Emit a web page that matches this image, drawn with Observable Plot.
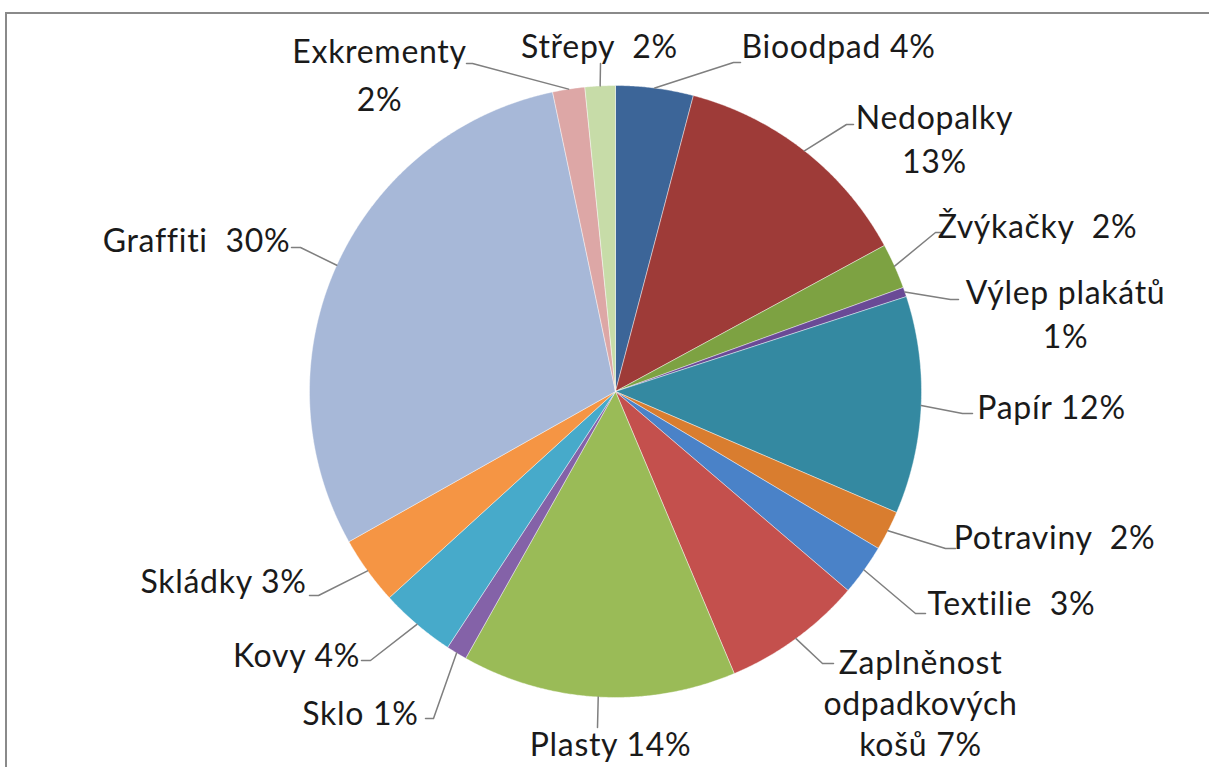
<!DOCTYPE html>
<html>
<head>
<meta charset="utf-8">
<script src="https://cdn.jsdelivr.net/npm/d3@7"></script>
<script src="https://cdn.jsdelivr.net/npm/@observablehq/plot@0.6"></script>
<style>
  html, body { margin: 0; padding: 0; background: #fff; }
  #wrap { position: relative; width: 1209px; height: 767px; overflow: hidden; }
  #frame { position: absolute; left: 5px; top: 12px; width: 1220px; height: 800px;
           border-left: 2px solid #8a8a8a; border-top: 2px solid #8a8a8a; }
  #chart { position: absolute; left: 0; top: 0; }
  #chart text { letter-spacing: 0.7px; }
</style>
</head>
<body>
<div id="wrap"><div id="frame"></div><div id="chart"></div></div>
<script>
// ---- data (clockwise from 12 o'clock) ----
const names = ["Bioodpad", "Nedopalky", "Žvýkačky", "Výlep plakátů", "Papír", "Potraviny",
  "Textilie", "Zaplněnost odpadkových košů", "Plasty", "Sklo", "Kovy", "Skládky",
  "Graffiti", "Exkrementy", "Střepy"];
const values = [4.1, 13.0, 2.4, 0.5, 11.5, 2.1, 2.7, 7.4, 14.5, 1.1, 4.0, 3.6, 29.9, 1.7, 1.6];
const labelTexts = ["Bioodpad 4%", "Nedopalky\n13%", "Žvýkačky\u00a0 2%", "Výlep plakátů\n1%",
  "Papír 12%", "Potraviny\u00a0 2%", "Textilie\u00a0 3%", "Zaplněnost\nodpadkových\nkošů 7%",
  "Plasty 14%", "Sklo 1%", "Kovy 4%", "Skládky 3%", "Graffiti\u00a0 30%", "Exkrementy\n2%", "Střepy\u00a0 2%"];
const colors = ["#3C6598", "#9E3B38", "#7DA242", "#6A4A96", "#3489A1", "#D97D2F",
  "#4A82C8", "#C4504D", "#9ABB57", "#8462A8", "#47AACA", "#F59544",
  "#A7B8D8", "#DDA7A6", "#C7DCA8"];

// ---- layout (pixels) ----
const W = 1209, H = 767;
const cx = 615, cy = 391, R = 306;
// label centre of first line, line spacing
const labelPos = [[838, 47, 44], [934, 118, 44], [1037, 227, 44], [1065, 293, 44],
  [1051, 408, 44], [1054, 538, 44], [1011, 604, 44], [920, 663, 41],
  [610, 745, 44], [360, 714, 44], [296, 656, 44], [223, 582, 44],
  [196, 241, 44], [379, 52, 48], [599, 47, 44]];
// leader elbow and tick end
const leaderPts = [[[733, 62], [740, 62]], [[846, 124], [853, 124]], [[935, 232], [942, 232]],
  [[950, 299], [958, 299]], [[962, 413], [972, 413]], [[945, 548], [955, 548]],
  [[915, 613], [925, 613]], [[822, 663], [833, 663]], [[597, 727], [597, 727]],
  [[433, 718], [425, 718]], [[370, 660], [361, 660]], [[318, 595], [309, 595]],
  [[300, 247], [291, 247]], [[472, 63], [466, 63]], [[600, 63], [600, 63]]];

const arcs = d3.pie().sort(null).value(d => d)(values);
const pt = (a, r) => [cx + r * Math.sin(a), cy - r * Math.cos(a)];

const slicePts = [];
arcs.forEach((a, i) => {
  const n = Math.max(2, Math.ceil((a.endAngle - a.startAngle) / 0.005));
  slicePts.push({name: names[i], x: cx, y: cy});
  for (let k = 0; k <= n; k++) {
    const ang = a.startAngle + (a.endAngle - a.startAngle) * k / n;
    const [x, y] = pt(ang, R);
    slicePts.push({name: names[i], x, y});
  }
  slicePts.push({name: names[i], x: cx, y: cy});
});

const leaderRows = [];
arcs.forEach((a, i) => {
  const [x0, y0] = pt((a.startAngle + a.endAngle) / 2, R);
  leaderRows.push({name: names[i], x: x0, y: y0});
  leaderRows.push({name: names[i], x: leaderPts[i][0][0], y: leaderPts[i][0][1]});
  leaderRows.push({name: names[i], x: leaderPts[i][1][0], y: leaderPts[i][1][1]});
});

const textRows = [];
labelTexts.forEach((t, i) => {
  t.split("\n").forEach((line, j) => {
    textRows.push({text: line, x: labelPos[i][0], y: labelPos[i][1] + j * labelPos[i][2]});
  });
});

const chart = Plot.plot({
  width: W, height: H, margin: 0,
  x: {domain: [0, W], axis: null},
  y: {domain: [H, 0], axis: null},
  color: {domain: names, range: colors},
  style: {background: "transparent", overflow: "visible"},
  marks: [
    Plot.line(slicePts, {x: "x", y: "y", z: "name", fill: "name", stroke: "#ffffff",
      strokeWidth: 0.6, strokeOpacity: 0.7, curve: "linear"}),
    Plot.line(leaderRows, {x: "x", y: "y", z: "name", stroke: "#7f7f7f", strokeWidth: 1.5}),
    Plot.text(textRows, {x: "x", y: "y", text: "text", textAnchor: "middle", lineAnchor: "middle",
      fontFamily: "Lato", fontSize: 32, fill: "#1a1a1a"})
  ]
});
document.getElementById("chart").appendChild(chart);
</script>
</body>
</html>
